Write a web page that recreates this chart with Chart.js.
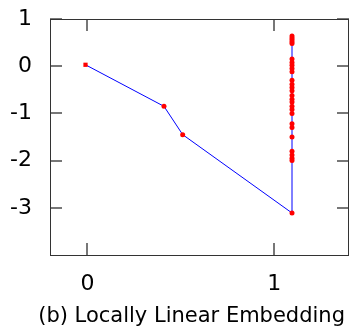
<!DOCTYPE html>
<html>
<head>
<meta charset="utf-8">
<script src="https://cdn.jsdelivr.net/npm/chart.js@4"></script>
<style>
  html, body { margin: 0; padding: 0; background: #fff; }
  #wrap { width: 349px; height: 327px; }
</style>
</head>
<body>
<div id="wrap"><canvas id="lleChart" width="349" height="327"></canvas></div>
<script>
// embedding coordinates
const embedX = [-0.01, 0.41, 0.51, 1.095,
    1.095, 1.095, 1.095, 1.095, 1.095, 1.095, 1.095, 1.095, 1.095, 1.095, 1.095, 1.095, 1.095,
    1.095, 1.095, 1.095, 1.095, 1.095, 1.095, 1.095, 1.095, 1.095, 1.095, 1.095, 1.095, 1.095, 1.095];
const embedY = [0.03, -0.85, -1.45, -3.11,
    -2.00, -1.95, -1.88, -1.80, -1.50, -1.30, -1.22, -1.00, -0.92, -0.85, -0.76, -0.70, -0.62,
    -0.52, -0.45, -0.38, -0.30, -0.12, -0.05, 0.02, 0.08, 0.15, 0.48, 0.52, 0.56, 0.60, 0.64];
const xTicks = [0, 1];
const yTicks = [1, 0, -1, -2, -3];
const titleText = "(b) Locally Linear Embedding";

const punti = embedX.map((x, i) => ({ x: x, y: embedY[i] }));

// inward ticks + box + caption, like the original plot
const boxPlugin = {
    id: "boxTicks",
    afterDraw(chart) {
        const c = chart.ctx;
        const a = chart.chartArea;
        const sx = chart.scales.x, sy = chart.scales.y;
        const len = 12;
        const L = Math.round(a.left), R = Math.round(a.right) - 1;
        const T = Math.round(a.top), B = Math.round(a.bottom);
        c.save();
        c.fillStyle = "#777";
        xTicks.forEach(v => {
            const px = Math.round(sx.getPixelForValue(v));
            c.fillRect(px - 1, T, 2, len);
            c.fillRect(px - 1, B - len, 2, len);
        });
        yTicks.forEach(v => {
            const py = Math.round(sy.getPixelForValue(v));
            c.fillRect(L, py - 1, len, 2);
            c.fillRect(R - len + 1, py - 1, len, 2);
        });
        // frame
        c.fillStyle = "#333";
        c.fillRect(L, T, R - L + 1, 1);
        c.fillRect(L, B, R - L + 1, 1);
        c.fillRect(L, T, 1, B - T + 1);
        c.fillRect(R, T, 1, B - T + 1);

        // caption (subfigure label)
        c.fillStyle = "#000";
        c.font = "21px 'DejaVu Sans'";
        c.textAlign = "center";
        c.textBaseline = "middle";
        c.fillText(titleText, chart.width * 0.549, chart.height - 10);
        c.restore();
    }
};

const noPad = s => { s.paddingTop = 0; s.paddingBottom = 0; s.paddingLeft = 0; s.paddingRight = 0; };

const ctx = document.getElementById("lleChart").getContext("2d");
new Chart(ctx, {
    type: "scatter",
    data: {
        datasets: [{
            data: punti,
            showLine: true,
            borderColor: "#0000ff",
            borderWidth: 1,
            pointBackgroundColor: "#ff0000",
            pointBorderColor: "#ff0000",
            pointRadius: punti.map((p, i) => i === 0 ? 3 : 2.5),
            pointStyle: punti.map((p, i) => i === 0 ? "rect" : "circle"),
            pointBorderWidth: 0
        }]
    },
    options: {
        responsive: false,
        animation: false,
        layout: { autoPadding: false, padding: { top: 19, right: 0, left: 0, bottom: 25 } },
        plugins: {
            legend: { display: false },
            tooltip: { enabled: false },
            title: { display: false }
        },
        scales: {
            x: {
                type: "linear",
                min: -0.2,
                max: 1.4,
                afterBuildTicks: s => { s.ticks = xTicks.map(v => ({ value: v })); },
                afterFit: s => { s.height = 47; noPad(s); },
                grid: { display: false, drawTicks: false },
                border: { display: false },
                ticks: {
                    color: "#000",
                    padding: 16,
                    font: { family: "DejaVu Sans", size: 22 }
                }
            },
            y: {
                type: "linear",
                min: -4,
                max: 1,
                afterBuildTicks: s => { s.ticks = yTicks.map(v => ({ value: v })); },
                afterFit: s => { s.width = 50; noPad(s); },
                grid: { display: false, drawTicks: false },
                border: { display: false },
                ticks: {
                    color: "#000",
                    padding: 18,
                    font: { family: "DejaVu Sans", size: 22 }
                }
            }
        }
    },
    plugins: [boxPlugin]
});
</script>
</body>
</html>
